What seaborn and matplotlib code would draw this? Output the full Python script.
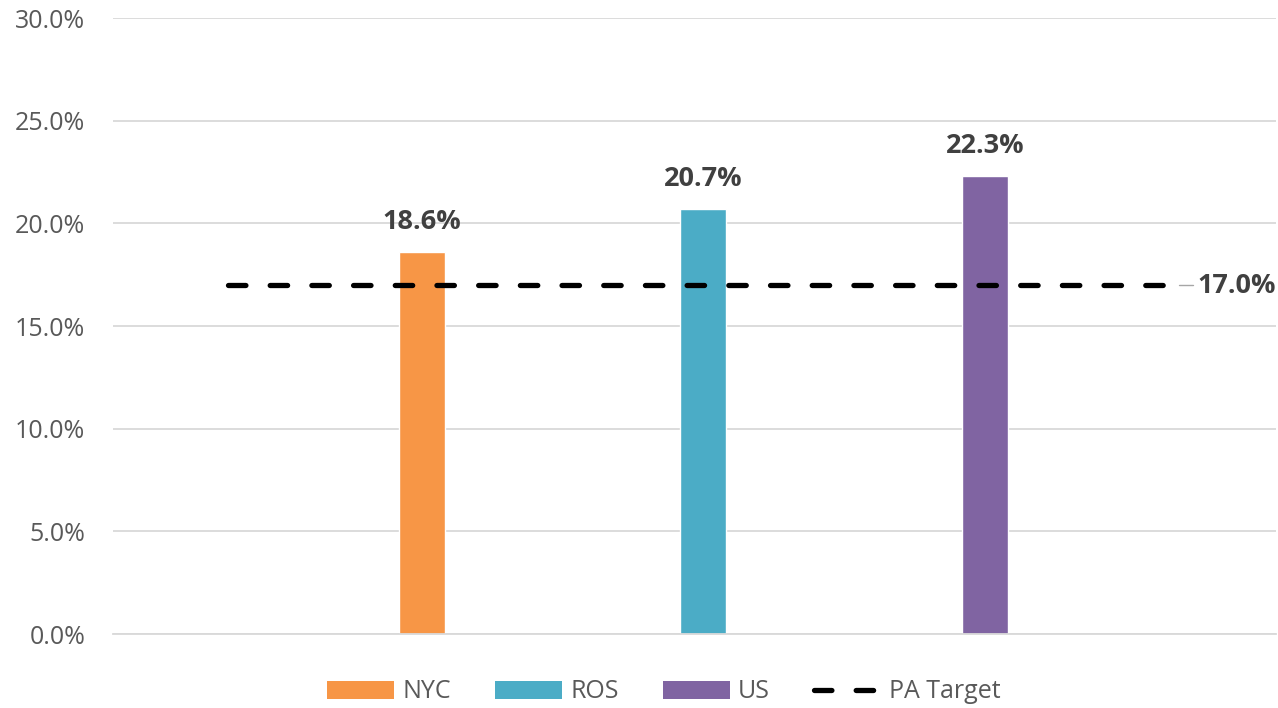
import matplotlib
matplotlib.use("Agg")
import matplotlib.pyplot as plt
import seaborn as sns
import pandas as pd
from matplotlib.patches import Patch
from matplotlib.lines import Line2D
from matplotlib.ticker import MultipleLocator, FuncFormatter

# Data
categories = ["NYC", "ROS", "US"]
values = [18.6, 20.7, 22.3]
target_label = "PA Target"
target_value = 17.0
yticks_max = 30.0

colors = ["#F79646", "#4BACC6", "#8064A2"]
text_color = "#595959"
label_color = "#404040"

sns.set_theme(style="white")
plt.rcParams["font.family"] = ["Open Sans", "DejaVu Sans"]

fig = plt.figure(figsize=(12.78, 7.08), dpi=100)
W, H = 1278, 708
ax = fig.add_axes([113 / W, 1 - 634 / H, (1276 - 113) / W, (634 - 18) / H])

df = pd.DataFrame({"cat": categories, "val": values})
sns.barplot(data=df, x="cat", y="val", hue="cat", palette=colors,
            width=0.163, legend=False, ax=ax, saturation=1)

ax.set_xlim(-1.098, 3.035)
ax.set_ylim(0, yticks_max)
ax.yaxis.set_major_locator(MultipleLocator(5))
ax.yaxis.set_major_formatter(FuncFormatter(lambda v, p: f"{v:.1f}%"))
ax.grid(axis="y", color="#D9D9D9", linewidth=1.3)
ax.set_axisbelow(True)
for s in ["top", "right", "left"]:
    ax.spines[s].set_visible(False)
ax.spines["bottom"].set_color("#D9D9D9")
ax.spines["bottom"].set_linewidth(1.3)
ax.set_xticks([])
ax.set_xlabel("")
ax.set_ylabel("")
ax.tick_params(axis="y", length=0, pad=20, labelsize=18, labelcolor=text_color)

# Bar labels
for i, v in enumerate(values):
    ax.annotate(f"{v:.1f}%", (i, v), xytext=(0, 12), textcoords="offset points",
                ha="center", va="bottom", fontsize=19.5, fontweight="bold",
                color=label_color)

# Target line
x0, x1 = -0.689, 2.71
ax.plot([x0, x1], [target_value, target_value], color="black", linewidth=3.8,
        linestyle=(0, (3.3, 4.6)), dash_capstyle="round", solid_capstyle="round",
        zorder=4)
ax.plot([x1 - 0.02, x1 + 0.03], [target_value, target_value], color="#A6A6A6",
        linewidth=1, zorder=3)
ax.annotate(f"{target_value:.1f}%", (x1 + 0.035, target_value), xytext=(2, -1),
            textcoords="offset points", ha="left", va="center", fontsize=19.5,
            fontweight="bold", color=label_color, annotation_clip=False)

handles = [Patch(facecolor=c, edgecolor="none", label=l) for c, l in zip(colors, categories)]
handles.append(Line2D([0], [0], color="black", linewidth=3.8, linestyle=(0, (3.3, 4.6)),
                      dash_capstyle="round", label=target_label))
fig.legend(handles=handles, loc="center", bbox_to_anchor=(664 / W, 1 - 692 / H),
           ncol=4, frameon=False, fontsize=18, labelcolor=text_color,
           handlelength=2.7, handleheight=0.75, handletextpad=0.32, columnspacing=1.75)

fig.savefig("out.png", dpi=100)
